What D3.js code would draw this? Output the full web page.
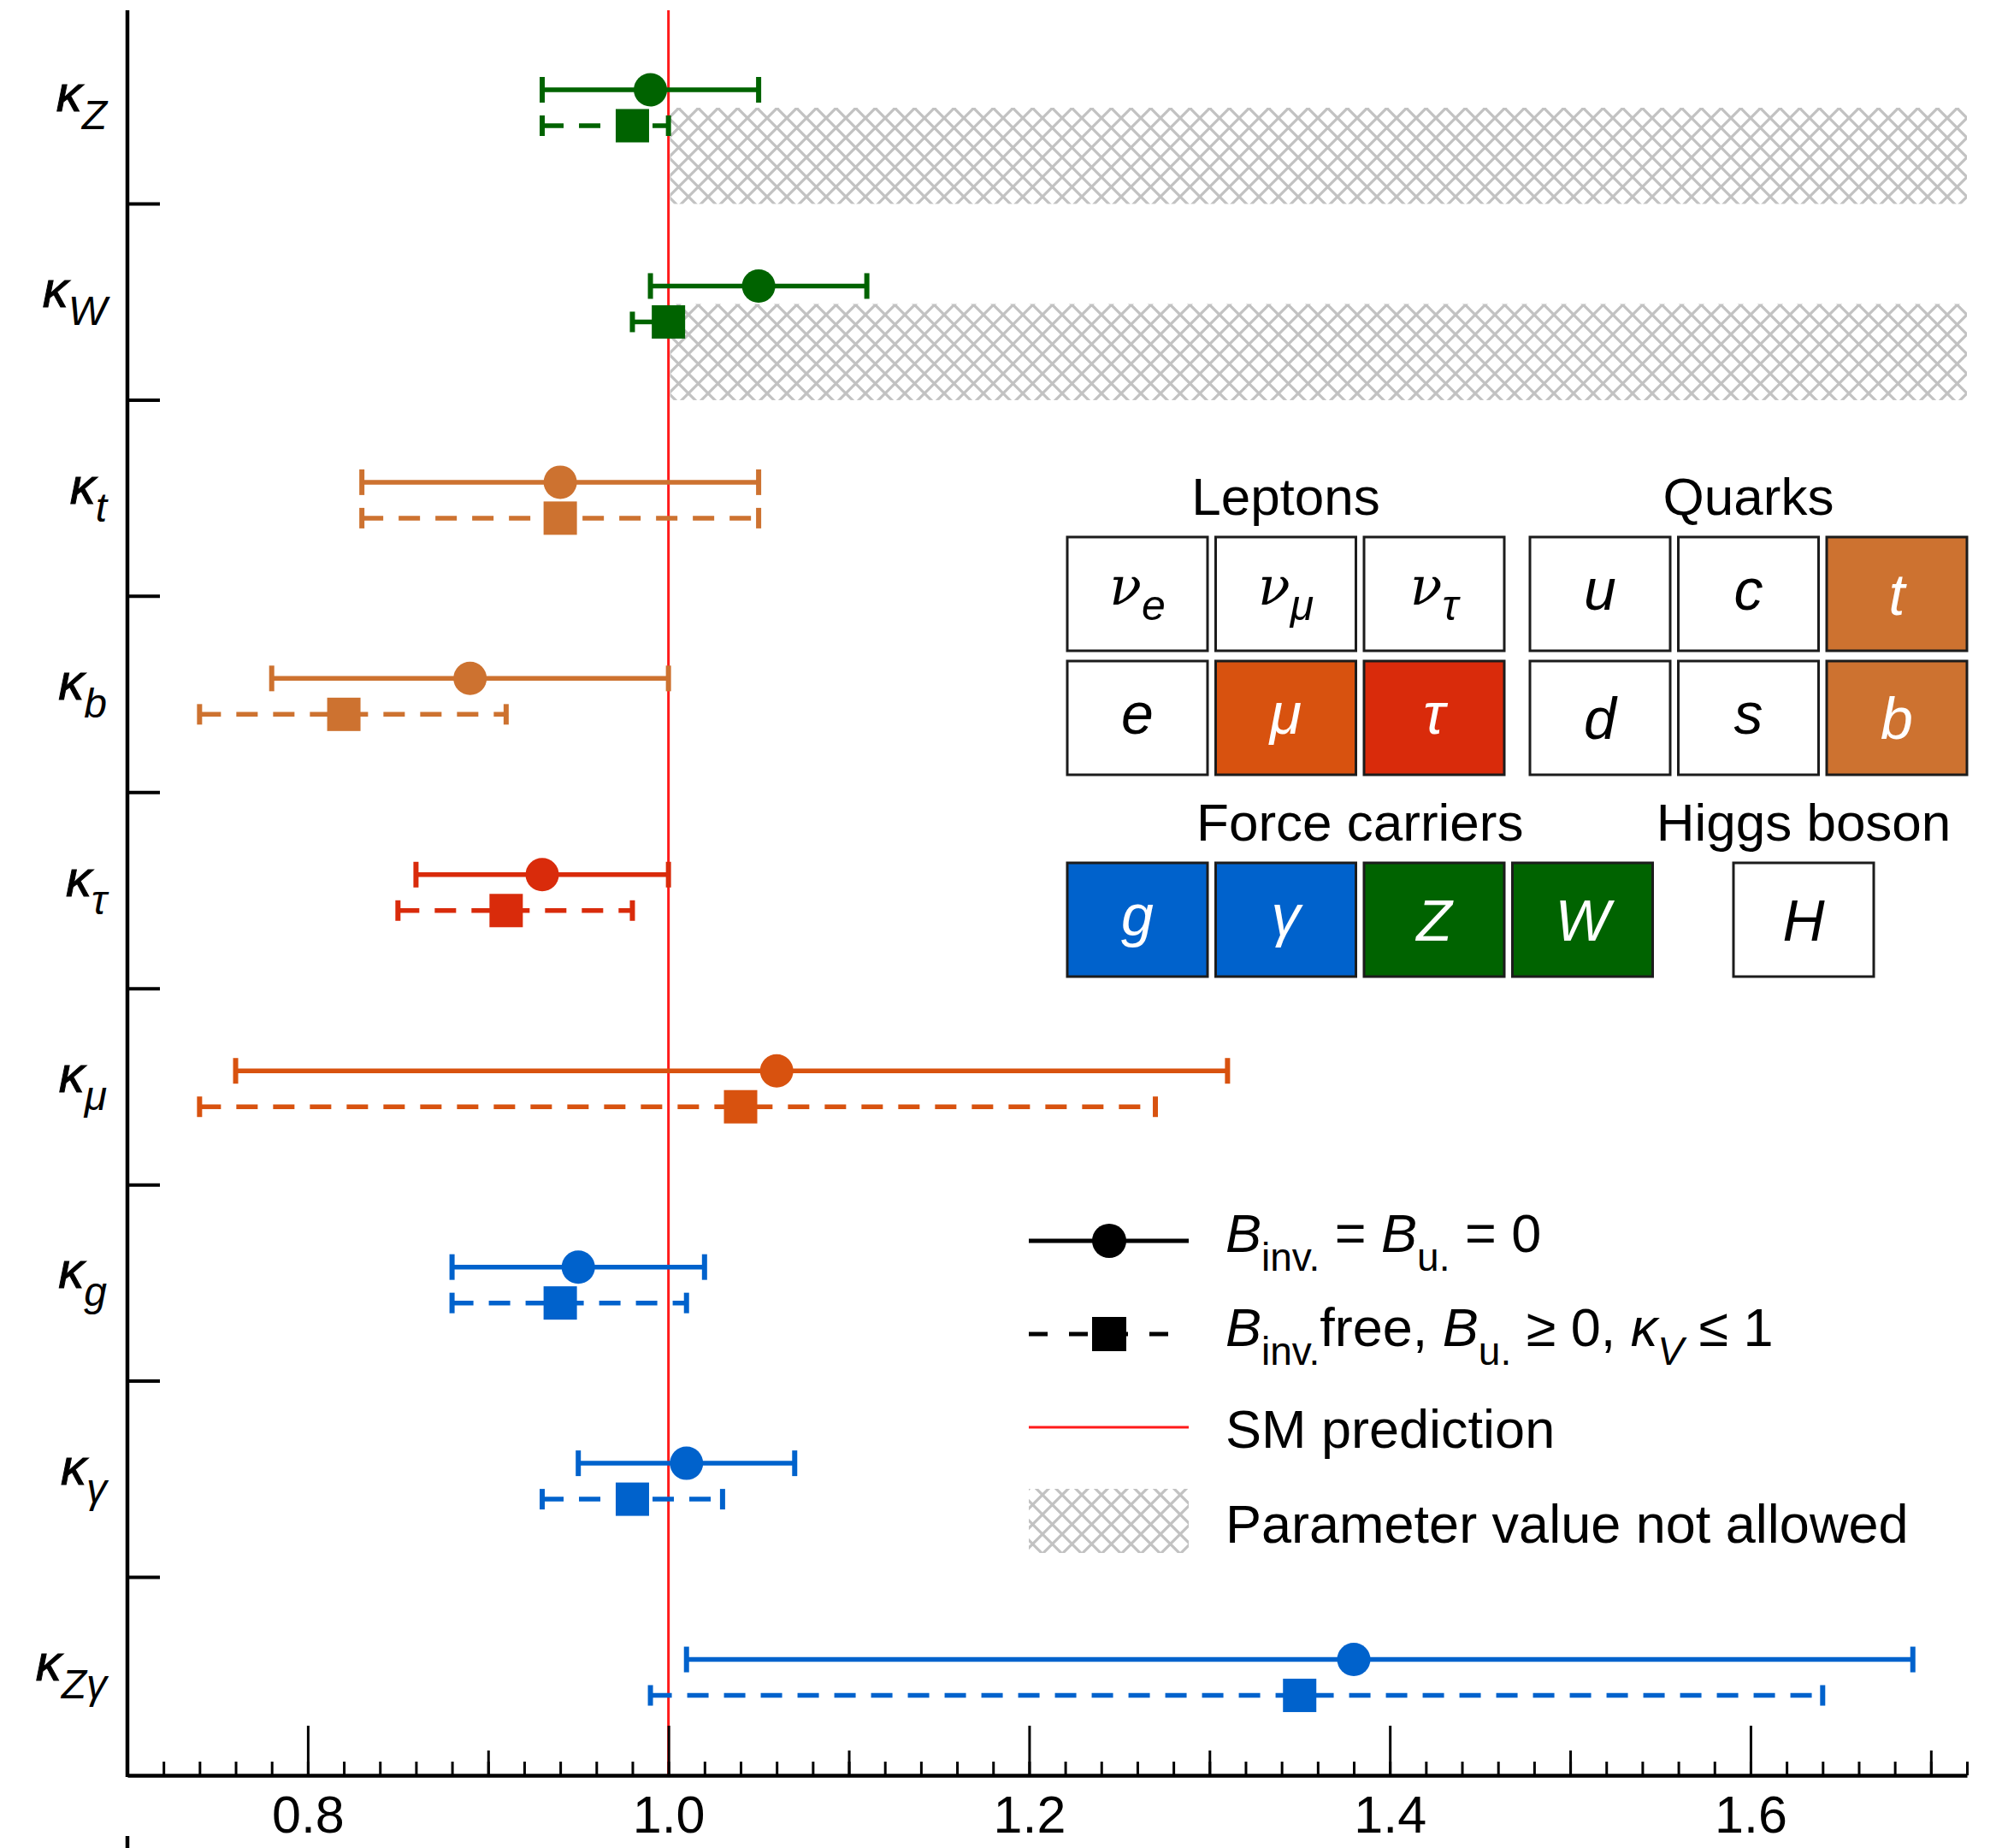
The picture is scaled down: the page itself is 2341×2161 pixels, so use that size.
<!DOCTYPE html>
<html>
<head>
<meta charset="utf-8">
<script src="https://cdn.jsdelivr.net/npm/d3@7"></script>
<style>
  body { margin: 0; background: #fff; }
  svg { display: block; font-family: "Liberation Sans", Arial, sans-serif; }
</style>
</head>
<body>
<script>
// coupling modifiers, top to bottom
var categories = ["Z", "W", "t", "b", "τ", "μ", "g", "γ", "Zγ"];
var catColor   = ["green", "green", "top", "top", "tau", "mu", "blue", "blue", "blue"];

// B_inv = B_u = 0  (circles, solid)
var central1 = [0.99, 1.05, 0.94, 0.89, 0.93, 1.06, 0.95, 1.01, 1.38];
var low1     = [0.93, 0.99, 0.83, 0.78, 0.86, 0.76, 0.88, 0.95, 1.01];
var high1    = [1.05, 1.11, 1.05, 1.00, 1.00, 1.31, 1.02, 1.07, 1.69];

// B_inv free, B_u >= 0, kappa_V <= 1  (squares, dashed)
var central2 = [0.98, 1.00, 0.94, 0.82, 0.91, 1.04, 0.94, 0.98, 1.35];
var low2     = [0.93, 0.98, 0.83, 0.74, 0.85, 0.74, 0.88, 0.93, 0.99];
var high2    = [1.00, 1.00, 1.05, 0.91, 0.98, 1.27, 1.01, 1.03, 1.64];

// parameter value not allowed above this (kappa_V <= 1)
var notAllowedFrom = [1.0, 1.0, null, null, null, null, null, null, null];

var xDomain = [0.7, 1.72];
var majorTicks = [0.8, 1.0, 1.2, 1.4, 1.6];

var colors = {
  green: "#006300",
  top:   "#cd7230",
  tau:   "#d92b0b",
  mu:    "#d8520f",
  blue:  "#0062cc"
};

// particle table
var leptonSym  = ["ν", "ν", "ν", "e", "μ", "τ"];
var leptonSub  = ["e", "μ", "τ", "", "", ""];
var leptonFill = ["none", "none", "none", "none", "mu", "tau"];
var quarkSym   = ["u", "c", "t", "d", "s", "b"];
var quarkFill  = ["none", "none", "top", "none", "none", "top"];
var forceSym   = ["g", "γ", "Z", "W"];
var forceFill  = ["blue", "blue", "green", "green"];
var higgsSym   = ["H"];
var higgsFill  = ["none"];

var W = 2341, H = 2161;
var svg = d3.select("body").append("svg").attr("width", W).attr("height", H);

var x = d3.scaleLinear().domain(xDomain).range([149, 2300]);
var y = d3.scaleBand().domain(d3.range(categories.length)).range([9, 2074]);
var bw = y.bandwidth();

// hatch pattern
var defs = svg.append("defs");
var pat = defs.append("pattern").attr("id", "hatch")
  .attr("patternUnits", "userSpaceOnUse").attr("width", 23).attr("height", 23);
pat.append("path")
  .attr("d", "M-3,-3L26,26M26,-3L-3,26")
  .attr("stroke", "#c2c2c2").attr("stroke-width", 3.2).attr("fill", "none");

// forbidden regions
categories.forEach(function(c, i) {
  if (notAllowedFrom[i] == null) return;
  svg.append("rect")
    .attr("x", x(notAllowedFrom[i]) + 2)
    .attr("y", y(i) + 117)
    .attr("width", x(xDomain[1]) - x(notAllowedFrom[i]) - 2)
    .attr("height", bw - 117)
    .attr("fill", "url(#hatch)");
});

// SM line
svg.append("line")
  .attr("x1", x(1)).attr("x2", x(1)).attr("y1", 12).attr("y2", 2076)
  .attr("stroke", "#ff1a1a").attr("stroke-width", 3);

// error bars
var rows = svg.append("g").selectAll("g").data(categories).enter().append("g");

rows.each(function(c, i) {
  var g = d3.select(this);
  var col = colors[catColor[i]];
  var y1 = y(i) + 96, y2 = y(i) + 138;

  g.append("line").attr("x1", x(low1[i])).attr("x2", x(high1[i]))
    .attr("y1", y1).attr("y2", y1).attr("stroke", col).attr("stroke-width", 5.5);
  [low1[i], high1[i]].forEach(function(v) {
    g.append("line").attr("x1", x(v)).attr("x2", x(v))
      .attr("y1", y1 - 15).attr("y2", y1 + 15).attr("stroke", col).attr("stroke-width", 6);
  });
  g.append("circle").attr("cx", x(central1[i])).attr("cy", y1).attr("r", 19.5).attr("fill", col);

  g.append("line").attr("x1", x(low2[i])).attr("x2", x(high2[i]))
    .attr("y1", y2).attr("y2", y2).attr("stroke", col).attr("stroke-width", 5.5)
    .attr("stroke-dasharray", "25,18");
  [low2[i], high2[i]].forEach(function(v) {
    g.append("line").attr("x1", x(v)).attr("x2", x(v))
      .attr("y1", y2 - 12).attr("y2", y2 + 12).attr("stroke", col).attr("stroke-width", 6);
  });
  g.append("rect").attr("x", x(central2[i]) - 19.5).attr("y", y2 - 19.5)
    .attr("width", 39).attr("height", 39).attr("fill", col);
});

// y axis
svg.append("line").attr("x1", 149).attr("x2", 149).attr("y1", 12).attr("y2", 2078)
  .attr("stroke", "#000").attr("stroke-width", 4.5);
svg.append("line").attr("x1", 149).attr("x2", 149).attr("y1", 2147).attr("y2", 2161)
  .attr("stroke", "#000").attr("stroke-width", 4.5);
svg.append("g").selectAll("line").data(d3.range(1, categories.length)).enter().append("line")
  .attr("x1", 149).attr("x2", 187)
  .attr("y1", function(i) { return y(i); }).attr("y2", function(i) { return y(i); })
  .attr("stroke", "#000").attr("stroke-width", 4);

// y labels
var labels = svg.append("g").selectAll("text").data(categories).enter().append("text")
  .attr("x", 125)
  .attr("y", function(c, i) { return y(i) + bw / 2 + 6; })
  .attr("text-anchor", "end")
  .attr("font-style", "italic")
  .attr("font-size", 60);
labels.append("tspan").attr("stroke", "#000").attr("stroke-width", 1).text("κ");
labels.append("tspan").attr("dy", 21).attr("font-size", 48).text(function(c) { return c; });

// x axis
var axisY = 2076;
var minor = d3.range(35, 87).map(function(k) { return k / 50; });
var medium = d3.range(7, 18).map(function(k) { return k / 10; })
  .filter(function(v) { return majorTicks.indexOf(v) < 0; });

svg.append("g").attr("transform", "translate(0," + axisY + ")")
  .call(d3.axisBottom(x).tickValues(minor).tickSize(-16).tickSizeOuter(0).tickFormat(""))
  .call(function(g) {
    g.select(".domain").attr("stroke-width", 4.5);
    g.selectAll(".tick line").attr("stroke-width", 3);
  });
svg.append("g").attr("transform", "translate(0," + axisY + ")")
  .call(d3.axisBottom(x).tickValues(medium).tickSize(-29).tickSizeOuter(0).tickFormat(""))
  .call(function(g) {
    g.select(".domain").remove();
    g.selectAll(".tick line").attr("stroke-width", 3);
  });
svg.append("g").attr("transform", "translate(0," + axisY + ")")
  .call(d3.axisBottom(x).tickValues(majorTicks).tickSize(-58).tickSizeOuter(0)
    .tickPadding(24).tickFormat(d3.format(".1f")))
  .call(function(g) {
    g.select(".domain").remove();
    g.selectAll(".tick line").attr("stroke-width", 3);
    g.selectAll(".tick text").attr("font-size", 61)
      .attr("font-family", '"Liberation Sans", Arial, sans-serif')
      .attr("fill", "#000").attr("dy", "0.71em");
  });

// particle table
var cellW = 164, cellH = 133, pitchX = 173.5, pitchY = 145;

function block(x0, y0, ncol, syms, subs, fills, title) {
  var g = svg.append("g");
  g.append("text")
    .attr("x", x0 + (ncol * pitchX - (pitchX - cellW)) / 2)
    .attr("y", y0 - 26)
    .attr("text-anchor", "middle").attr("font-size", 62).text(title);
  syms.forEach(function(s, k) {
    var cx = x0 + (k % ncol) * pitchX, cy = y0 + Math.floor(k / ncol) * pitchY;
    var f = fills[k] === "none" ? "#fff" : colors[fills[k]];
    g.append("rect").attr("x", cx).attr("y", cy).attr("width", cellW).attr("height", cellH)
      .attr("fill", f).attr("stroke", "#1c1c1c").attr("stroke-width", 3);
    var upper = /[A-Zdbt]/.test(s);
    var t = g.append("text")
      .attr("x", cx + cellW / 2)
      .attr("y", cy + cellH / 2 + (upper ? 24 : 18))
      .attr("text-anchor", "middle").attr("font-style", "italic")
      .attr("fill", fills[k] === "none" ? "#000" : "#fff");
    if (subs && subs[k]) {
      t.attr("y", cy + cellH / 2 + 12);
      t.append("tspan").attr("font-family", '"DejaVu Serif", serif').attr("font-size", 62).text(s);
      t.append("tspan").attr("dy", 18).attr("font-size", 50).text(subs[k]);
    } else {
      t.attr("font-size", 68).text(s);
    }
  });
}
block(1248, 628, 3, leptonSym, leptonSub, leptonFill, "Leptons");
block(1789, 628, 3, quarkSym, null, quarkFill, "Quarks");
block(1248, 1009, 4, forceSym, null, forceFill, "Force carriers");
block(2027, 1009, 1, higgsSym, null, higgsFill, "Higgs boson");

// legend
var lg = svg.append("g");
var lx0 = 1203, lx1 = 1390, lxm = 1297, tx = 1433;

lg.append("line").attr("x1", lx0).attr("x2", lx1).attr("y1", 1451).attr("y2", 1451)
  .attr("stroke", "#000").attr("stroke-width", 5);
lg.append("circle").attr("cx", lxm).attr("cy", 1451).attr("r", 20).attr("fill", "#000");

lg.append("line").attr("x1", lx0).attr("x2", lx1).attr("y1", 1560).attr("y2", 1560)
  .attr("stroke", "#000").attr("stroke-width", 5).attr("stroke-dasharray", "22,25");
lg.append("rect").attr("x", lxm - 20).attr("y", 1540).attr("width", 40).attr("height", 40).attr("fill", "#000");

lg.append("line").attr("x1", lx0).attr("x2", lx1).attr("y1", 1669).attr("y2", 1669)
  .attr("stroke", "#ff1a1a").attr("stroke-width", 3);

lg.append("rect").attr("x", lx0).attr("y", 1741).attr("width", lx1 - lx0).attr("height", 75)
  .attr("fill", "url(#hatch)");

var fs = 63, sub = 46, sh = 22;
var t1 = lg.append("text").attr("x", tx).attr("y", 1464).attr("font-size", fs);
t1.append("tspan").attr("font-style", "italic").text("B");
t1.append("tspan").attr("dy", sh).attr("font-size", sub).text("inv.");
t1.append("tspan").attr("dy", -sh).text(" = ");
t1.append("tspan").attr("font-style", "italic").text("B");
t1.append("tspan").attr("dy", sh).attr("font-size", sub).text("u.");
t1.append("tspan").attr("dy", -sh).text(" = 0");

var t2 = lg.append("text").attr("x", tx).attr("y", 1574).attr("font-size", fs);
t2.append("tspan").attr("font-style", "italic").text("B");
t2.append("tspan").attr("dy", sh).attr("font-size", sub).text("inv.");
t2.append("tspan").attr("dy", -sh).text("free, ");
t2.append("tspan").attr("font-style", "italic").text("B");
t2.append("tspan").attr("dy", sh).attr("font-size", sub).text("u.");
t2.append("tspan").attr("dy", -sh).text(" ≥ 0, ");
t2.append("tspan").attr("font-style", "italic").text("κ");
t2.append("tspan").attr("dy", sh).attr("font-size", sub).attr("font-style", "italic").text("V");
t2.append("tspan").attr("dy", -sh).text(" ≤ 1");

lg.append("text").attr("x", tx).attr("y", 1693).attr("font-size", fs).text("SM prediction");
lg.append("text").attr("x", tx).attr("y", 1804).attr("font-size", fs).text("Parameter value not allowed");
</script>
</body>
</html>
